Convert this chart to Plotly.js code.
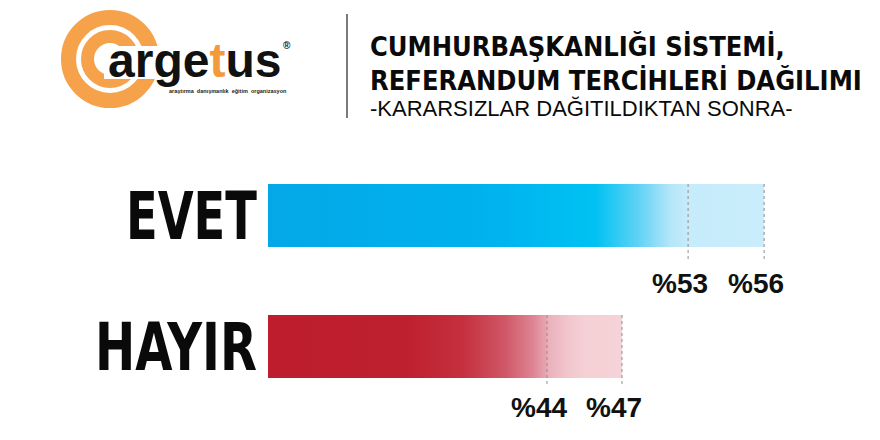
<!DOCTYPE html>
<html>
<head>
<meta charset="utf-8">
<script src="https://cdn.plot.ly/plotly-3.0.1.min.js"></script>
<style>
  html, body { margin: 0; padding: 0; background: #ffffff; }
  #chart { width: 880px; height: 440px; }
</style>
</head>
<body>
<div id="chart"></div>
<script>
// ---- data ----
const categories = ['EVET', 'HAYIR'];
const lowValues  = [53, 44];
const highValues = [56, 47];
const titleLines = ['CUMHURBAŞKANLIĞI SİSTEMİ,', 'REFERANDUM TERCİHLERİ DAĞILIMI', '-KARARSIZLAR DAĞITILDIKTAN SONRA-'];
const logoWord = ['arge', 't', 'us'];
const logoTagline = 'araştırma  danışmanlık  eğitim  organizasyon';

// ---- styles / layout constants ----
const W = 880, H = 440;
const M = { l: 268, r: 12, t: 150, b: 28 };
const PW = W - M.l - M.r, PH = H - M.t - M.b;
const axisRanges = [[36.42, 60.10], [32.84, 56.84]];
const axisIds = ['x', 'x2'];
const barHalf = 0.2405;
const dashExt = [0.115, 0.055];
const labelShiftY = [-19, -12];
const tickLabelWidths = [131, 162];
const cond = '"DejaVu Sans Condensed", "Liberation Sans Narrow", sans-serif';
const sans = '"Liberation Sans", Arial, sans-serif';

const mainScales = [
  [[0, '#04a8e6'], [0.5, '#00b1ee'], [0.78, '#00c2f2'], [0.88, '#5ed2f5'], [0.96, '#b6e6f9'], [1, '#c6ebfa']],
  [[0, '#bd1d2c'], [0.5, '#bf202f'], [0.7, '#c5303f'], [0.85, '#d05767'], [0.95, '#de8493'], [1, '#e8a7b2']]
];
const lightScales = [
  [[0, '#c6ebfa'], [1, '#c9edfb']],
  [[0, '#eab0ba'], [0.3, '#f2c7ce'], [0.5, '#f5d0d5'], [1, '#f6d3d8']]
];

// pixel -> paper helpers for page decorations
const pxX = x => (x - M.l) / PW;
const pxY = y => (H - M.b - y) / PH;

const traces = [];
const shapes = [];
const annotations = [];

categories.forEach((cat, i) => {
  const xa = axisIds[i];
  const r0 = axisRanges[i][0];
  const L = lowValues[i], U = highValues[i];
  const y0 = i - barHalf, y1 = i + barHalf;
  traces.push({
    type: 'scatter', mode: 'none', fill: 'toself',
    x: [r0, L, L, r0, r0], y: [y0, y0, y1, y1, y0],
    xaxis: xa, yaxis: 'y', hoverinfo: 'skip', showlegend: false,
    fillgradient: { type: 'horizontal', colorscale: mainScales[i], start: r0, stop: L }
  });
  traces.push({
    type: 'scatter', mode: 'none', fill: 'toself',
    x: [L, U, U, L, L], y: [y0, y0, y1, y1, y0],
    xaxis: xa, yaxis: 'y', hoverinfo: 'skip', showlegend: false,
    fillgradient: { type: 'horizontal', colorscale: lightScales[i], start: L, stop: U }
  });
  [L, U].forEach(v => {
    shapes.push({
      type: 'line', xref: xa, yref: 'y', x0: v, x1: v, y0: y0, y1: y1 + dashExt[i],
      line: { color: '#8f8f8f', width: 1, dash: '3px,3px' }, layer: 'above'
    });
    annotations.push({
      xref: xa, yref: 'y', x: v, y: y1, xanchor: 'center', yanchor: 'top',
      xshift: -8, yshift: labelShiftY[i], showarrow: false,
      text: '%' + v,
      font: { family: sans, size: 28, color: '#111111', weight: 'bold' }
    });
  });
});

// ---- logo and header decorations ----
const ringC = { x: 110, y: 59 };
const rings = [{ r: 41.5, w: 15 }, { r: 22.5, w: 13 }];
rings.forEach(rg => {
  shapes.push({
    type: 'circle', xref: 'paper', yref: 'paper', layer: 'above',
    x0: pxX(ringC.x - rg.r), x1: pxX(ringC.x + rg.r),
    y0: pxY(ringC.y + rg.r), y1: pxY(ringC.y - rg.r),
    line: { color: '#f5a24b', width: rg.w }, fillcolor: 'rgba(0,0,0,0)'
  });
});
shapes.push({
  type: 'rect', xref: 'paper', yref: 'paper', layer: 'above',
  x0: pxX(104), x1: pxX(292), y0: pxY(79), y1: pxY(46),
  line: { width: 0 }, fillcolor: '#ffffff'
});
shapes.push({
  type: 'line', xref: 'paper', yref: 'paper', layer: 'above',
  x0: pxX(347), x1: pxX(347), y0: pxY(118), y1: pxY(14),
  line: { color: '#7a7a7a', width: 2 }
});

annotations.push({
  xref: 'paper', yref: 'paper', x: pxX(106), y: pxY(61), xanchor: 'left', yanchor: 'middle',
  showarrow: false,
  text: logoWord[0] + '<span style="color:#f39a3c">' + logoWord[1] + '</span>' + logoWord[2],
  font: { family: sans, size: 48, color: '#111111', weight: 'bold' }
});
annotations.push({
  xref: 'paper', yref: 'paper', x: pxX(287), y: pxY(45), xanchor: 'center', yanchor: 'middle',
  showarrow: false, text: '®', font: { family: sans, size: 10, color: '#111111', weight: 'bold' }
});
annotations.push({
  xref: 'paper', yref: 'paper', x: pxX(289), y: pxY(91), xanchor: 'right', yanchor: 'middle',
  showarrow: false, text: logoTagline, font: { family: sans, size: 5.5, color: '#222222', weight: 'bold' }
});

const titleY = [47, 80, 108];
const titleFonts = [
  { family: cond, size: 27, color: '#0a0a0a', weight: 'bold' },
  { family: cond, size: 27, color: '#0a0a0a', weight: 'bold' },
  { family: sans, size: 22, color: '#0a0a0a', weight: 'normal' }
];
titleLines.forEach((t, k) => {
  annotations.push({
    xref: 'paper', yref: 'paper', x: pxX(368), y: pxY(titleY[k]), xanchor: 'left', yanchor: 'middle',
    showarrow: false, text: t, font: titleFonts[k]
  });
});

const hiddenX = r => ({
  range: r, showgrid: false, zeroline: false, showticklabels: false, ticks: '',
  showline: false, fixedrange: true
});

const layout = {
  width: W, height: H,
  margin: M,
  paper_bgcolor: '#ffffff', plot_bgcolor: '#ffffff',
  showlegend: false,
  xaxis: hiddenX(axisRanges[0]),
  xaxis2: Object.assign(hiddenX(axisRanges[1]), { overlaying: 'x', side: 'bottom' }),
  yaxis: {
    range: [categories.length - 0.5, -0.5],
    tickvals: categories.map((c, i) => i), ticktext: categories,
    tickfont: { family: cond, size: 66, color: '#0a0a0a', weight: 'bold' },
    showgrid: false, zeroline: false, showline: false, ticks: '', ticklabelstandoff: 10,
    fixedrange: true
  },
  shapes: shapes,
  annotations: annotations
};

Plotly.newPlot('chart', traces, layout, { displayModeBar: false, staticPlot: true }).then(gd => {
  // condense the big category labels to the reference's narrow, heavy type
  gd.querySelectorAll('.ytick text').forEach((t, i) => {
    if (tickLabelWidths[i]) {
      t.setAttribute('textLength', tickLabelWidths[i]);
      t.setAttribute('lengthAdjust', 'spacingAndGlyphs');
    }
  });
});
</script>
</body>
</html>
